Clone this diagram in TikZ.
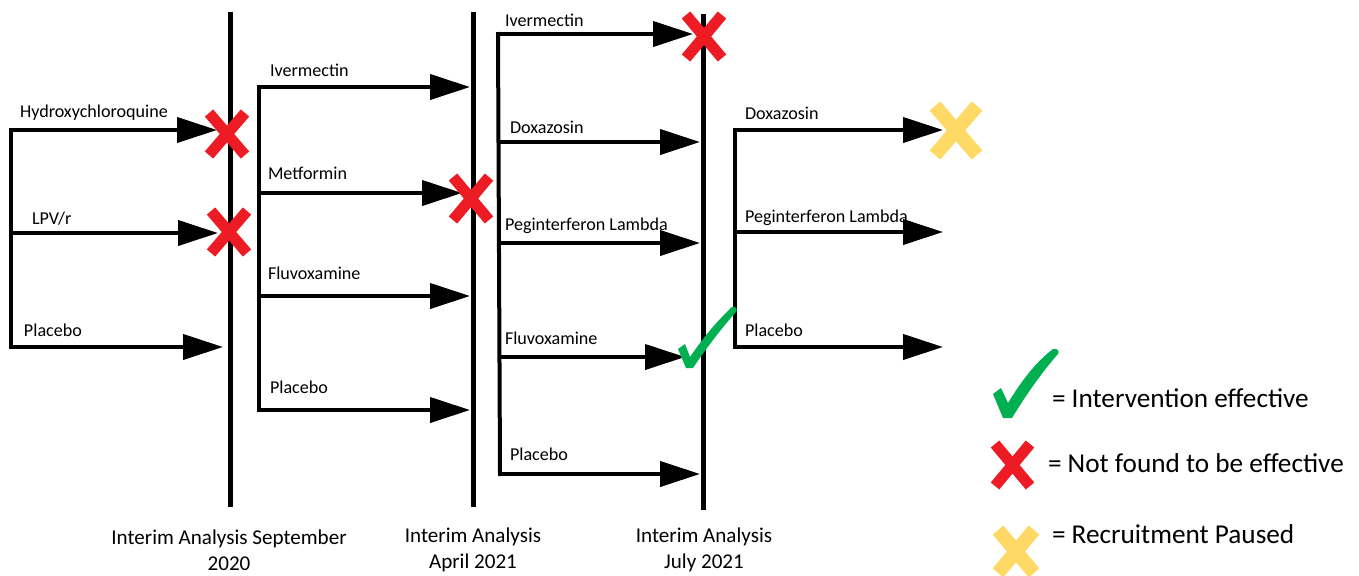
\documentclass[tikz,border=0pt]{standalone}
\usepackage{fontspec}
\setmainfont{Carlito}
\usepackage{tikz}
\usetikzlibrary{positioning, arrows.meta}

\definecolor{notred}{RGB}{237,28,36}
\definecolor{pausey}{RGB}{255,217,102}
\definecolor{okgreen}{RGB}{0,176,80}

\begin{document}
\begin{tikzpicture}[
    x=0.02cm, y=-0.02cm,
    every node/.style={inner sep=0pt, outer sep=0pt},
    drug/.style={anchor=west, font=\fontsize{10.3}{12}\selectfont},
    stage/.style={align=center, font=\fontsize{12}{14.6}\selectfont},
    legend/.style={anchor=west, font=\fontsize{15.5}{18}\selectfont},
    timeline/.style={line width=0.1cm},
    arm/.style={line width=0.08cm, line cap=rect},
    arr/.style={line width=0.08cm, -{Triangle[length=0.8cm, width=0.5cm]}},
    nogo/.style={notred, line width=0.22cm},
    paused/.style={pausey, line width=0.28cm}
]
    \useasboundingbox (0,0) rectangle (1359,575);

    % interim analyses
    \node[stage] (ia1) at (229,550) {Interim Analysis September\\2020};
    \node[stage] (ia2) at (473,550) {Interim Analysis\\April 2021};
    \node[stage] (ia3) at (704,550) {Interim Analysis\\July 2021};
    \coordinate (t1top) at (230,12);
    \coordinate (t1bot) at (230,507);
    \coordinate (t2top) at (473,12);
    \coordinate (t2bot) at (473,507);
    \coordinate (t3top) at (703,14);
    \coordinate (t3bot) at (703,510);
    \draw[timeline] (t1top) -- (t1bot);
    \draw[timeline] (t2top) -- (t2bot);
    \draw[timeline] (t3top) -- (t3bot);

    % stage 1
    \coordinate (hcqA) at (11,130);  \coordinate (hcqB) at (217,130);
    \coordinate (lpvA) at (11,233);  \coordinate (lpvB) at (218,233);
    \coordinate (plaA) at (11,347);  \coordinate (plaB) at (223,347);
    \draw[arm] (hcqA) -- (plaA);
    \draw[arr] (hcqA) -- (hcqB);
    \draw[arr] (lpvA) -- (lpvB);
    \draw[arr] (plaA) -- (plaB);
    \node[drug] (hcq) at (20,113) {Hydroxychloroquine};
    \node[drug] (lpv) at (32,219) {LPV/r};
    \node[drug] (pla) at (24,330) {Placebo};

    % stage 2
    \coordinate (ivmA) at (259,87);   \coordinate (ivmB) at (470,87);
    \coordinate (metA) at (259,193);  \coordinate (metB) at (462,193);
    \coordinate (fluA) at (259,296);  \coordinate (fluB) at (470,296);
    \coordinate (plbA) at (259,410);  \coordinate (plbB) at (470,410);
    \draw[arm] (ivmA) -- (plbA);
    \draw[arr] (ivmA) -- (ivmB);
    \draw[arr] (metA) -- (metB);
    \draw[arr] (fluA) -- (fluB);
    \draw[arr] (plbA) -- (plbB);
    \node[drug] (ivm) at (270,70) {Ivermectin};
    \node[drug] (met) at (268,173) {Metformin};
    \node[drug] (flu) at (268,273) {Fluvoxamine};
    \node[drug] (plb) at (270,387) {Placebo};

    % stage 3
    \coordinate (ivnA) at (498,34);   \coordinate (ivnB) at (693,34);
    \coordinate (doxA) at (498,142);  \coordinate (doxB) at (700,142);
    \coordinate (pegA) at (499,243);  \coordinate (pegB) at (700,243);
    \coordinate (fluvA) at (499,357); \coordinate (fluvB) at (685,357);
    \coordinate (plcA) at (500,474);  \coordinate (plcB) at (700,474);
    \draw[arm] (ivnA) -- (plcA);
    \draw[arr] (ivnA) -- (ivnB);
    \draw[arr] (doxA) -- (doxB);
    \draw[arr] (pegA) -- (pegB);
    \draw[arr] (fluvA) -- (fluvB);
    \draw[arr] (plcA) -- (plcB);
    \node[drug] (ivn) at (505,20) {Ivermectin};
    \node[drug] (dox) at (510,127) {Doxazosin};
    \node[drug] (peg) at (505,226) {Peginterferon Lambda};
    \node[drug] (fluv) at (505,338) {Fluvoxamine};
    \node[drug] (plc) at (510,454) {Placebo};

    % stage 4
    \coordinate (doyA) at (735,130);  \coordinate (doyB) at (943,130);
    \coordinate (pehA) at (735,232);  \coordinate (pehB) at (943,232);
    \coordinate (pldA) at (735,347);  \coordinate (pldB) at (943,347);
    \draw[arm] (doyA) -- (pldA);
    \draw[arr] (doyA) -- (doyB);
    \draw[arr] (pehA) -- (pehB);
    \draw[arr] (pldA) -- (pldB);
    \node[drug] (doy) at (745,113) {Doxazosin};
    \node[drug] (peh) at (745,218) {Peginterferon Lambda};
    \node[drug] (pld) at (745,330) {Placebo};

    % outcomes
    \draw[nogo] (209,113) -- (245,155) (245,113) -- (209,155);
    \draw[nogo] (211,211) -- (247,253) (247,211) -- (211,253);
    \draw[nogo] (453,177) -- (489,220) (489,177) -- (453,220);
    \draw[nogo] (686,15) -- (722,58) (722,15) -- (686,58);
    \draw[paused] (935,106) -- (977,155) (977,106) -- (935,155);
    \fill[okgreen] (678,349) -- (685,344) -- (690,357)
        .. controls (703,338) and (716,322) .. (732,307)
        .. controls (736,306) and (738,309) .. (736,312)
        .. controls (720,330) and (705,350) .. (693,368) -- (686,368) -- cycle;

    % legend
    \fill[okgreen] (993,394) -- (1001,388) -- (1008,403)
        .. controls (1022,380) and (1036,362) .. (1053,349)
        .. controls (1057,348) and (1060,351) .. (1058,354)
        .. controls (1042,372) and (1026,395) .. (1012,418) -- (1003,418) -- cycle;
    \draw[nogo] (995,444) -- (1030,486) (1030,444) -- (995,486);
    \draw[paused] (998,530) -- (1034,573) (1034,530) -- (998,573);
    \node[legend] (effective) at (1052,398) {= Intervention effective};
    \node[legend] (noeffect) at (1048,463) {= Not found to be effective};
    \node[legend] (pause) at (1052,534) {= Recruitment Paused};
\end{tikzpicture}
\end{document}
